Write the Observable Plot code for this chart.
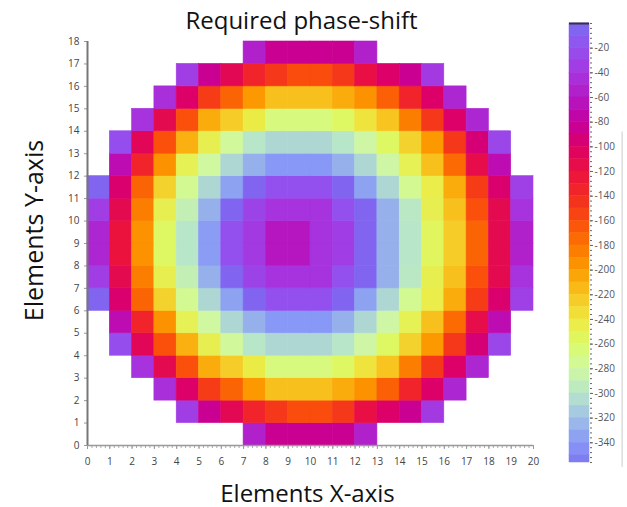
<!DOCTYPE html>
<html><head><meta charset="utf-8">
<script src="https://cdn.jsdelivr.net/npm/d3@7"></script>
<script src="https://cdn.jsdelivr.net/npm/@observablehq/plot@0.6"></script>
<style>
html,body{margin:0;padding:0;background:#fff;}
#wrap{position:relative;width:627px;height:507px;font-family:"Open Sans",sans-serif;}
#main{position:absolute;left:0;top:0;}
#bar{position:absolute;left:550px;top:0;}
</style></head><body>
<div id="wrap"><div id="main"></div><div id="bar"></div></div>
<script>
// ---- data: phase (degrees) per element, one array per row (y index), starting at column rowStart[y]
const rowStart = [7,4,3,2,1,1,0,0,0,0,0,0,1,1,2,3,4,7];
const row17 = [-55,-85,-85,-85,-85,-55];
const row16 = [-35,-85,-110,-135,-148,-160,-160,-148,-118,-100,-85,-38];
const row15 = [-45,-100,-150,-172,-198,-218,-218,-218,-208,-195,-170,-135,-100,-50];
const row14 = [-42,-112,-162,-208,-225,-243,-268,-268,-268,-258,-238,-220,-185,-148,-100,-50];
const row13 = [-22,-108,-162,-210,-248,-278,-300,-308,-308,-308,-300,-282,-258,-228,-198,-148,-95,-28];
const row12 = [-70,-135,-195,-250,-280,-308,-328,-340,-340,-340,-328,-308,-282,-250,-218,-175,-115,-70];
const row11 = [-5,-98,-172,-228,-275,-308,-335,-5,-20,-20,-20,-5,-335,-308,-275,-245,-208,-150,-98,-32];
const row10 = [-35,-112,-185,-248,-290,-328,-5,-30,-42,-42,-42,-20,-5,-328,-298,-248,-218,-162,-112,-42];
const row9  = [-50,-122,-195,-258,-300,-338,-20,-38,-62,-62,-42,-35,-5,-328,-300,-255,-225,-172,-112,-55];
const row8  = [-50,-122,-195,-258,-300,-338,-20,-38,-62,-62,-42,-35,-5,-328,-300,-255,-225,-172,-112,-55];
const row7  = [-35,-112,-185,-248,-290,-328,-5,-30,-42,-42,-42,-20,-5,-328,-298,-248,-218,-162,-112,-42];
const row6  = [-5,-98,-172,-228,-275,-308,-335,-5,-20,-20,-20,-5,-335,-308,-275,-245,-208,-150,-98,-32];
const row5  = [-70,-135,-195,-250,-280,-308,-328,-340,-340,-340,-328,-308,-282,-250,-218,-175,-115,-70];
const row4  = [-22,-108,-162,-210,-248,-278,-300,-308,-308,-308,-300,-282,-258,-228,-198,-148,-95,-28];
const row3  = [-42,-112,-162,-208,-225,-243,-268,-268,-268,-258,-238,-220,-185,-148,-100,-50];
const row2  = [-45,-100,-150,-172,-198,-218,-218,-218,-208,-195,-170,-135,-100,-50];
const row1  = [-35,-85,-110,-135,-148,-160,-160,-148,-118,-100,-85,-38];
const row0  = [-55,-85,-85,-85,-85,-55];
const rows = [row0,row1,row2,row3,row4,row5,row6,row7,row8,row9,row10,row11,row12,row13,row14,row15,row16,row17];

// ---- colour scale stops
const colorStops = [0,-20,-40,-60,-80,-100,-120,-140,-160,-180,-200,-220,-240,-260,-280,-300,-320,-340,-360];
const colorRange = ["#7a6cf2","#9450ee","#a436e0","#b418c4","#c400a0","#dc0068","#ea1040","#f22a22","#fa4c0c",
                    "#fc7400","#fc9c00","#f8c420","#eee840","#dcfa68","#d0f8a0","#b8e6c8","#a0c0e6","#8898f6","#7a74f0"];

// ---- ticks and texts
const xTicks = d3.range(0, 21);
const yTicks = d3.range(0, 19);
const legendTicks = d3.range(-20, -341, -20);
const titleText = "Required phase-shift";
const xLabel = "Elements X-axis";
const yLabel = "Elements Y-axis";

const cells = rows.flatMap((r, j) => r.map((v, k) => ({x: rowStart[j] + k, y: j, v})));
const xMinor = d3.range(0, 100.5, 1).map(d => d / 5);
const legendMinor = d3.range(0, -357, -4);
const bands = d3.range(0, -356, -10);
const color = {type: "linear", domain: colorStops, range: colorRange};
const font = "'Open Sans', sans-serif";

const main = Plot.plot({
  width: 550, height: 507,
  marginLeft: 87, marginRight: 17, marginTop: 41, marginBottom: 62,
  style: {fontFamily: font, background: "transparent", overflow: "visible"},
  x: {domain: [0, 20]},
  y: {domain: [0, 18]},
  color,
  marks: [
    Plot.rect(cells, {x1: "x", x2: d => d.x + 1, y1: "y", y2: d => d.y + 1, fill: "v", stroke: "v", strokeWidth: 0.6}),
    Plot.axisX(xMinor, {tickSize: 3, tickFormat: () => "", stroke: "#aaa", label: null}),
    Plot.axisX(xTicks, {tickSize: 4, tickPadding: 8, fontSize: 10, fill: "#444", stroke: "#999", label: null, tickFormat: d => String(d)}),
    Plot.axisY(yTicks, {tickSize: 3, tickPadding: 5, fontSize: 10, fill: "#444", stroke: "#999", label: null, tickFormat: d => String(d)}),
    Plot.ruleY([0], {stroke: "#999", strokeWidth: 1.5}),
    Plot.ruleX([0], {stroke: "#777", strokeWidth: 2}),
    Plot.text([titleText], {text: d => d, frameAnchor: "top", textAnchor: "middle", dx: -9, dy: -30, fontSize: 24, fill: "#111"}),
    Plot.text([xLabel], {text: d => d, frameAnchor: "bottom", textAnchor: "middle", dx: -3, dy: 56, fontSize: 24, fill: "#111"}),
    Plot.text([yLabel], {text: d => d, frameAnchor: "left", textAnchor: "middle", dx: -53, dy: -13, rotate: -90, fontSize: 25, fill: "#111"})
  ]
});
document.getElementById("main").appendChild(main);

const bar = Plot.plot({
  width: 77, height: 507,
  marginLeft: 19, marginRight: 38, marginTop: 23, marginBottom: 45,
  style: {fontFamily: font, background: "transparent", overflow: "visible"},
  x: {domain: [0, 1], axis: null},
  y: {domain: [-356, 0]},
  color,
  marks: [
    Plot.rect(bands, {x1: 0, x2: 1, y1: d => d, y2: d => Math.max(d - 10, -356), fill: d => d - 5, stroke: d => d - 5, strokeWidth: 0.5}),
    Plot.axisY(legendMinor, {anchor: "right", tickSize: 2, tickFormat: () => "", stroke: "#666", label: null}),
    Plot.axisY(legendTicks, {anchor: "right", tickSize: 3, tickPadding: 2, fontSize: 10, fill: "#555", stroke: "#666", label: null, tickFormat: d => String(d)}),
    Plot.ruleY([0], {x1: 0, x2: 1, stroke: "#334", strokeWidth: 2}),
    Plot.ruleX([2.63], {y1: -88, y2: -360, stroke: "#ccc"})
  ]
});
document.getElementById("bar").appendChild(bar);
</script>
</body></html>
